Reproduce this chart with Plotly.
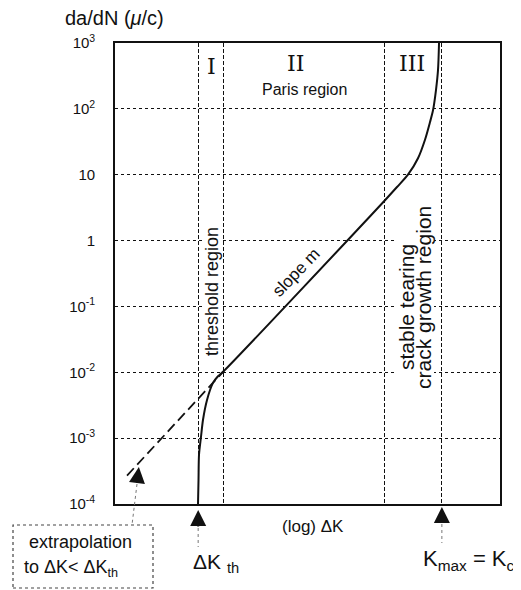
import plotly.graph_objects as go

# crack growth curve, x is (log) dK in arbitrary units 0..100
dk_curve = [21.56, 21.69, 21.82, 22.34, 22.86, 23.90, 25.45, 26.75, 28.31,
            70.13, 73.25, 76.10, 78.70, 80.52, 81.82, 82.60, 83.38, 83.90, 84.16]
dadn_curve = [1.0e-4, 2.3e-4, 5.6e-4, 1.05e-3, 1.9e-3, 3.8e-3, 6.9e-3, 8.7e-3, 1.05e-2,
              4.1, 6.5, 10, 17.8, 34, 63, 95, 195, 390, 1000]

# extrapolation of the Paris line below threshold
dk_extrap = [3.12, 28.31]
dadn_extrap = [2.7e-4, 1.05e-2]

# region boundaries: dK_th, end of I, end of II, K_max
boundaries = [21.6, 28.1, 70.1, 84.9]

ytick_vals = [1e-4, 1e-3, 1e-2, 1e-1, 1, 10, 1e2, 1e3]
ytick_text = ["10<sup>-4</sup>", "10<sup>-3</sup>", "10<sup>-2</sup>", "10<sup>-1</sup>",
              "1", "10", "10<sup>2</sup>", "10<sup>3</sup>"]

# page body has an 8px margin, so the figure is drawn 8px in from the window edge
OFF = 8
W, H = 513, 582
L, R, T, B = 107, 21, 35, 86
PW, PH = W - L - R, H - T - B
SANS = "Liberation Sans, Arial, sans-serif"
SERIF = "DejaVu Serif, serif"
INK = "#111"


def px(x):
    # window pixel -> paper x
    return (x - OFF - L) / PW


def py(y):
    # window pixel -> paper y
    return (H - B - (y - OFF)) / PH


fig = go.Figure()
fig.add_trace(go.Scatter(
    x=dk_extrap, y=dadn_extrap, mode="lines",
    line=dict(color=INK, width=1.8, dash="10px,5px"), hoverinfo="skip"
))
fig.add_trace(go.Scatter(
    x=dk_curve, y=dadn_curve, mode="lines",
    line=dict(color=INK, width=2, shape="spline", smoothing=0.8), hoverinfo="skip"
))

# white patches behind the rotated labels (they break the grid in the original)
for x0, x1, y0, y1 in [(202, 221, 225, 360), (395, 434, 203, 396)]:
    fig.add_shape(type="rect", xref="paper", yref="paper",
                  x0=px(x0), x1=px(x1), y0=py(y1), y1=py(y0),
                  fillcolor="white", line=dict(width=0), layer="above")

annotations = [
    dict(text="da/dN (<i>μ</i>/c)", x=px(114), y=py(18), font=dict(size=20)),
    dict(text="I", x=px(211), y=py(66), font=dict(size=22, family=SERIF)),
    dict(text="II", x=px(295), y=py(64), font=dict(size=22, family=SERIF)),
    dict(text="Paris region", x=px(304), y=py(90), font=dict(size=16)),
    dict(text="III", x=px(412), y=py(64), font=dict(size=22, family=SERIF)),
    dict(text="threshold region", x=px(212), y=py(292), textangle=-90,
         font=dict(size=18)),
    dict(text="stable tearing", x=px(406), y=py(307), textangle=-90,
         font=dict(size=21)),
    dict(text="crack growth region", x=px(423), y=py(298), textangle=-90,
         font=dict(size=21)),
    dict(text="slope m", x=px(296), y=py(272), textangle=-46, font=dict(size=17)),
    dict(text="(log) ΔK", x=px(313), y=py(526), font=dict(size=17)),
    dict(text="ΔK <sub>th</sub>", x=px(216), y=py(563), font=dict(size=21)),
    dict(text="K<sub>max</sub> = K<sub>c</sub>", x=px(469), y=py(560), font=dict(size=22)),
    dict(text="extrapolation", x=px(27), y=py(542), xanchor="left", font=dict(size=18)),
    dict(text="to ΔK< ΔK<sub>th</sub>", x=px(22), y=py(568), xanchor="left",
         font=dict(size=18)),
]
for a in annotations:
    a.setdefault("xref", "paper")
    a.setdefault("yref", "paper")
    a.setdefault("xanchor", "center")
    a.setdefault("yanchor", "middle")
    a.setdefault("showarrow", False)
    a["font"].setdefault("family", SANS)
    a["font"].setdefault("color", INK)
    fig.add_annotation(**a)

# arrowheads
arrow = dict(showarrow=True, arrowhead=2, arrowsize=1.6, arrowwidth=2,
             arrowcolor=INK, text="", standoff=0)
fig.add_annotation(x=boundaries[0], y=py(510), xref="x", yref="paper",
                   ax=0, ay=18, **arrow)
fig.add_annotation(x=boundaries[3], y=py(507), xref="x", yref="paper",
                   ax=0, ay=17, **arrow)
fig.add_annotation(x=6.2, y=-3.44, xref="x", yref="y",
                   ax=-2, ay=17, **arrow)

# dotted leaders and box
dotted = dict(color="#777", width=1, dash="dot")
fig.add_shape(type="line", xref="x", yref="paper", x0=boundaries[0], x1=boundaries[0],
              y0=py(528), y1=py(547), line=dotted)
fig.add_shape(type="line", xref="x", yref="paper", x0=boundaries[3], x1=boundaries[3],
              y0=py(524), y1=py(543), line=dotted)
fig.add_shape(type="line", xref="paper", yref="paper", x0=px(137), x1=px(132),
              y0=py(484), y1=py(525), line=dotted)
fig.add_shape(type="rect", xref="paper", yref="paper", x0=px(13), x1=px(153),
              y0=py(588), y1=py(525), line=dict(color="#444", width=1.2, dash="dot"))

fig.update_xaxes(
    range=[0, 100], tickvals=boundaries, showticklabels=False, ticks="",
    showgrid=True, gridcolor=INK, griddash="4px,2px", gridwidth=1.4,
    showline=True, linecolor=INK, linewidth=1.6, mirror=True, zeroline=False
)
fig.update_yaxes(
    type="log", range=[-4, 3], tickvals=ytick_vals, ticktext=ytick_text,
    showgrid=True, gridcolor=INK, griddash="dot", gridwidth=1,
    showline=True, linecolor=INK, linewidth=1.6, mirror=True, ticks="",
    ticklabelstandoff=15, tickfont=dict(size=15, family=SANS, color=INK)
)
fig.update_layout(
    width=W, height=H, margin=dict(l=L, r=R, t=T, b=B),
    plot_bgcolor="white", paper_bgcolor="white", showlegend=False
)

fig.write_html("out.html")
